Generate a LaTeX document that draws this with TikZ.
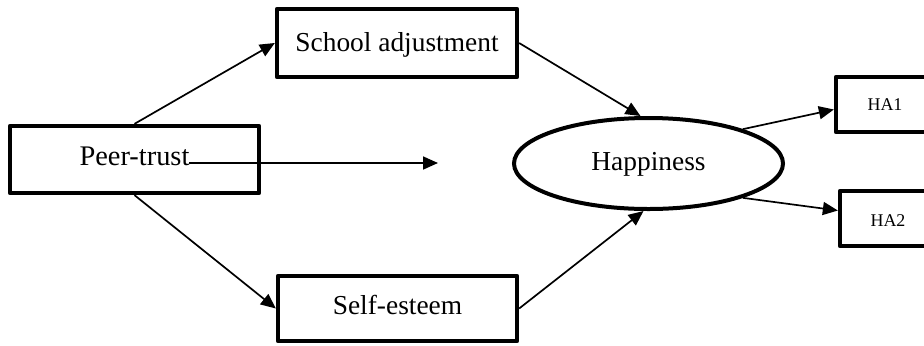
\documentclass[tikz,border=0pt]{standalone}
\usepackage{fontspec}
\setmainfont{Liberation Serif}
\usetikzlibrary{shapes.geometric,arrows.meta}
\begin{document}
\begin{tikzpicture}[x=1bp,y=-1bp,
  box/.style={draw, line width=4.3bp, line join=round, rectangle, inner sep=0pt, text height=18bp, text depth=0pt, font=\fontsize{27.5}{30}\selectfont},
  smallbox/.style={box, text height=12bp, font=\fontsize{18}{20}\selectfont},
  oval/.style={draw, line width=4bp, ellipse, inner sep=0pt, text height=18bp, text depth=0pt, font=\fontsize{27.5}{30}\selectfont},
  link/.style={line width=1.7bp, -{Triangle[length=15bp,width=13bp]}}]
\useasboundingbox (0,0) rectangle (924,345);
\clip (0,0) rectangle (924,345);
\node[box, minimum width=249bp, minimum height=67bp, font=\fontsize{28.5}{30}\selectfont] (peer) at (134.5,159.5) {\raisebox{3.5bp}{Peer-trust}};
\node[box, minimum width=240bp, minimum height=68bp] (school) at (397,43) {\raisebox{0.5bp}{School adjustment}};
\node[box, minimum width=239bp, minimum height=65bp] (self) at (397.5,308.5) {\raisebox{3.5bp}{Self-esteem}};
\node[oval, minimum width=269bp, minimum height=91bp] (happy) at (648.5,163.5) {\raisebox{2bp}{Happiness}};
\node[smallbox, minimum width=98bp, minimum height=55bp] (ha1) at (885,104.5) {HA1};
\node[smallbox, minimum width=96bp, minimum height=55bp] (ha2) at (888,218.5) {\raisebox{-1.5bp}{HA2}};
\coordinate (pstart) at (189,163);
\coordinate (pend) at (438,163);
\draw[link] (peer.north) -- (school.west);
\draw[link] (peer.south) -- (self.west);
\draw[link] (pstart) -- (pend);
\draw[link] (school.east) -- ([xshift=-8bp]happy.north);
\draw[link] (self.east) -- ([xshift=-5bp]happy.south);
\draw[link] (happy.20) -- ([yshift=-5bp]ha1.west);
\draw[link] (happy.-20) -- ([yshift=8bp]ha2.west);
\end{tikzpicture}
\end{document}
